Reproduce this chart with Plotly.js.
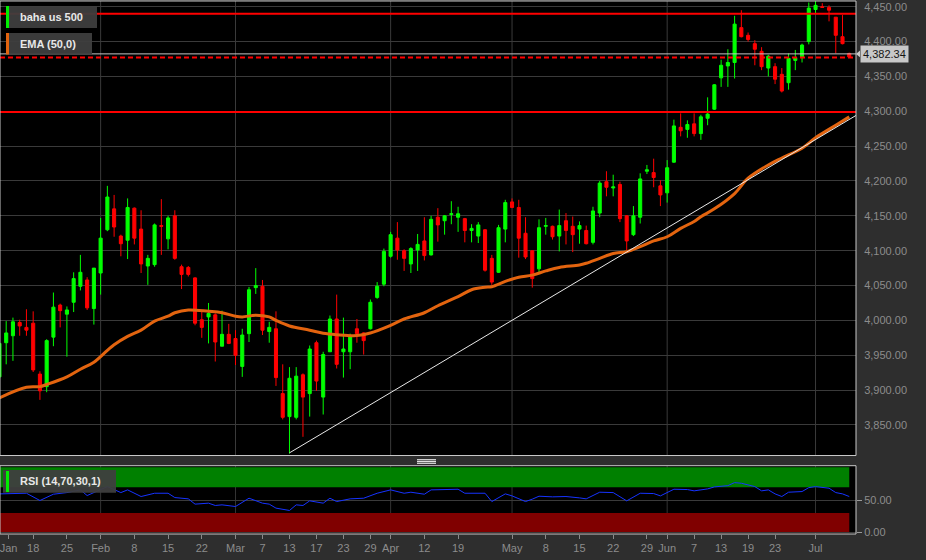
<!DOCTYPE html>
<html><head><meta charset="utf-8">
<script src="https://cdn.plot.ly/plotly-3.0.1.min.js"></script>
<style>html,body{margin:0;padding:0;background:#2e2e2e;overflow:hidden}#chart{width:926px;height:560px}</style>
</head><body><div id="chart"></div>
<script>
// ---- data ----
const opens = [3919,3968,3978,3997,3990,3996,3923,3905,3976,4022, 4009,4026,4049,4058,4017,4068,4130,4160,4121,4115, 4161,4131,4078,4080,4136,4117,4150,4077,4076,4061, 4001,4005,4008,3963,3980,3974,3934,3981,4047,4049, 3984,3988,3895,3862,3861,3922,3895,3968,3890,3955, 4002,3955,3955,3988,3982,3988,4033,4052,4092,4118, 4100,4081,4101,4114,4094,4148,4143,4152,4148,4146, 4129,4121,4130,4089,4069,4131,4170,4162,4125,4100, 4074,4135,4135,4121,4143,4135,4131,4129,4112,4154, 4199,4190,4195,4150,4123,4148,4214,4212,4193,4183, 4227,4277,4274,4282,4268,4290,4303,4348,4365,4370, 4420,4409,4397,4386,4362,4364,4353,4341,4373,4377, 4400,4446,4450,4449,4435,4407,4383];
const highs = [3972,3999,4004,4001,4016,4013,3927,3973,4040,4024, 4020,4069,4094,4062,4075,4147,4193,4180,4123,4175, 4162,4158,4094,4139,4174,4150,4158,4080,4078,4062, 4014,4025,4010,4014,3995,3986,3988,4048,4075,4058, 3998,4013,3937,3933,3933,3924,3964,3971,3955,4007, 4037,4004,3981,4002,3983,4030,4055,4103,4127,4141, 4102,4105,4124,4148,4150,4161,4151,4171,4163,4147, 4138,4141,4131,4094,4137,4173,4175,4173,4148,4100, 4145,4147,4136,4159,4154,4149,4142,4136,4163,4200, 4214,4209,4199,4151,4164,4211,4223,4232,4201,4230, 4288,4297,4287,4297,4295,4320,4339,4374,4389,4437, 4445,4413,4402,4392,4381,4369,4362,4383,4388,4397, 4456,4459,4455,4452,4435,4438,4384];
const lows = [3912,3937,3942,3978,3978,3926,3886,3897,3963,3990, 3948,4012,4043,4015,3994,4037,4128,4120,4092,4088, 4109,4068,4051,4077,4094,4102,4087,4045,4063,3993, 3975,3967,3941,3963,3966,3936,3919,3969,4038,3979, 3968,3906,3858,3809,3858,3833,3862,3899,3865,3955, 3931,3918,3930,3968,3951,3987,4031,4049,4090,4087, 4071,4068,4071,4086,4093,4113,4123,4138,4127,4112, 4112,4111,4070,4051,4068,4112,4161,4090,4088,4047, 4069,4123,4116,4099,4109,4098,4110,4109,4109,4148, 4178,4178,4141,4101,4121,4139,4210,4191,4164,4169, 4226,4264,4262,4264,4259,4280,4302,4335,4335,4347, 4406,4400,4366,4359,4350,4339,4327,4331,4359,4370, 4396,4441,4449,4429,4383,4396,4377];
const closes = [3967,3982,3998,3992,3986,3929,3899,3971,4019,4014, 4015,4060,4069,4018,4075,4118,4177,4134,4110,4162, 4118,4081,4089,4137,4135,4147,4089,4066,4066,3996, 3990,4010,3969,3980,3967,3950,3979,4044,4050,3986, 3990,3918,3861,3917,3920,3890,3959,3913,3951,4002, 3937,3959,3978,3981,3971,4026,4049,4099,4123,4101, 4089,4103,4109,4093,4145,4137,4150,4153,4153,4129, 4132,4137,4072,4055,4133,4169,4162,4118,4091,4060, 4133,4136,4120,4136,4129,4123,4136,4110,4157,4197, 4191,4191.5,4146,4114,4150,4203,4216,4205,4180,4219, 4279,4272,4281,4268,4292,4296,4338,4366,4370,4425, 4407,4403,4389,4364,4379,4346,4329,4376,4377,4395, 4448,4452,4449,4445,4409,4397,4378];

const emaX = [0,4,6,7,10,12,14,16,17,19,21,23,25,26,28,31,33,35,36,38,40,41,43,46,48,50,53,55,58,60,63,65,68,70,72,73,75,77,79,81,83,86,87,89,91,93,95,97,99,101,103,104,106,109,111,114,116,119,121,124,126];
const emaY = [3889,3904,3905,3908,3919,3930,3940,3957,3965,3977,3986,3999,4006,4011,4015,4013,4011,4006,4005,4007.5,4005,4000,3992,3986,3981.5,3979.5,3978.3,3982,3993,4002,4011,4021,4034,4044,4047.5,4048.4,4056,4062,4065,4071,4076,4079.5,4082,4089,4096,4098.6,4105.7,4114,4120,4132,4142,4148.8,4160,4182,4204,4223,4233,4247,4262,4280,4292];

const rsiX = [0,4,6,8,10,12,13,15,16,18,19,21,23,25,26,28,29,31,32,33,35,37,39,40,41,43,44,45,46,48,49,50,52,54,56,58,60,61,63,64,67,68,69,72,73,75,76,78,79,80,82,84,86,87,89,91,93,95,97,98,100,102,103,105,106,108,109,110,112,113,114,115,116,117,119,120,121,123,124,125,126];
const rsiY = [59.7,60.7,49.4,59.2,61.7,65.9,57.1,65.9,71.0,61.7,65.9,55.6,60.7,60.7,54.0,52.0,43.8,45.3,41.7,42.7,40.1,53.0,45.3,43.8,37.6,34.0,42.7,41.7,48.9,45.3,53.0,47.8,52.0,53.0,60.7,65.9,60.7,62.3,59.2,65.9,65.9,66.9,60.7,60.7,47.8,59.7,56.6,47.8,51.5,56.1,55.1,55.6,53.5,52.0,62.3,61.7,48.9,60.7,60.2,56.6,66.9,66.4,64.4,67.4,70.5,72.5,77.2,76.2,71.0,64.4,65.9,59.7,55.6,62.3,63.3,69.4,71.0,68.5,61.7,59.7,55.6];
const rsiUpper = 70, rsiLower = 30, rsiTop = 101, rsiBottom = -1.5;

const tickIdx = [1.35,5,10,15,20,25,30,35,39,43,47,51,55,58,63,68,76,81,86,91,96,99,103,107,111,115,121];
const tickText = ['Jan','18','25','Feb','8','15','22','Mar','7','13','17','23','29','Apr','12','19','May','8','15','22','29','Jun','7','13','19','23','Jul'];
const monthIdx = [15,35,58,76,99,121];
const priceTicks = [3850,3900,3950,4000,4050,4100,4150,4200,4250,4300,4350,4400,4450];

const solidLevels = [4440, 4299];
const dashedLevel = 4377;
const lastPrice = 4382.34;
const trendX = [43, 127];
const trendY = [3810, 4294];

// ---- layout helpers (pixel -> paper) ----
const PW = 856, PT = 1, PB = 534, PH = PB - PT;
const px = x => x / PW;
const py = y => (PB - y) / PH;
const FONT = 'Liberation Sans, Arial, sans-serif';

const idx = closes.map((_, i) => i);

const traces = [
  {type:'candlestick', x: idx, open: opens, high: highs, low: lows, close: closes,
   xaxis:'x', yaxis:'y', whiskerwidth:0,
   increasing:{line:{color:'#00ff00', width:1}, fillcolor:'#00ff00'},
   decreasing:{line:{color:'#ff0000', width:1}, fillcolor:'#ff0000'},
   hoverinfo:'skip', showlegend:false},
  {type:'scatter', mode:'lines', x: emaX, y: emaY, xaxis:'x', yaxis:'y',
   line:{color:'#e3640f', width:3, shape:'spline'}, hoverinfo:'skip', showlegend:false},
  {type:'scatter', mode:'lines', x: trendX, y: trendY, xaxis:'x', yaxis:'y',
   line:{color:'#e8e8e8', width:1}, hoverinfo:'skip', showlegend:false},
  {type:'scatter', mode:'lines', x: rsiX, y: rsiY, xaxis:'x', yaxis:'y2',
   line:{color:'#1633ff', width:1}, hoverinfo:'skip', showlegend:false}
];

const shapes = [];
const lastIdx = closes.length - 1;
// RSI zones
shapes.push({type:'rect', xref:'x', yref:'y2', x0:0, x1:lastIdx, y0:rsiUpper, y1:rsiTop, fillcolor:'#008000', line:{width:0}, layer:'below'});
shapes.push({type:'rect', xref:'x', yref:'y2', x0:0, x1:lastIdx, y0:rsiBottom, y1:rsiLower, fillcolor:'#800000', line:{width:0}, layer:'below'});
// month grid lines
monthIdx.forEach(m => {
  shapes.push({type:'line', xref:'x', yref:'y domain', x0:m, x1:m, y0:0, y1:1, line:{color:'#3a3a3a', width:1}, layer:'below'});
  shapes.push({type:'line', xref:'x', yref:'y2 domain', x0:m, x1:m, y0:0, y1:1, line:{color:'rgba(255,255,255,0.2)', width:1}, layer:'below'});
});
// horizontal levels
shapes.push({type:'line', xref:'x domain', yref:'y', x0:0, x1:1, y0:lastPrice, y1:lastPrice, line:{color:'#c4c4c4', width:1}});
solidLevels.forEach(l => shapes.push({type:'line', xref:'x domain', yref:'y', x0:0, x1:1, y0:l, y1:l, line:{color:'#ff0000', width:2}}));
shapes.push({type:'line', xref:'x domain', yref:'y', x0:0, x1:1, y0:dashedLevel, y1:dashedLevel, line:{color:'#ff0000', width:2, dash:'5px,3px'}});
// frames
shapes.push({type:'rect', xref:'x domain', yref:'y domain', x0:0, x1:1, y0:0, y1:1, line:{color:'#c8c8c8', width:1}, fillcolor:'rgba(0,0,0,0)'});
shapes.push({type:'rect', xref:'x domain', yref:'y2 domain', x0:0, x1:1, y0:0, y1:1, line:{color:'#c8c8c8', width:1}, fillcolor:'rgba(0,0,0,0)'});
// legend boxes
shapes.push({type:'rect', xref:'paper', yref:'paper', x0:px(6), x1:px(97), y0:py(28), y1:py(6), fillcolor:'rgba(62,62,62,0.95)', line:{width:0}});
shapes.push({type:'rect', xref:'paper', yref:'paper', x0:px(6), x1:px(9), y0:py(28), y1:py(6), fillcolor:'#00ee00', line:{width:0}});
shapes.push({type:'rect', xref:'paper', yref:'paper', x0:px(6), x1:px(92), y0:py(54.5), y1:py(33), fillcolor:'rgba(62,62,62,0.95)', line:{width:0}});
shapes.push({type:'rect', xref:'paper', yref:'paper', x0:px(6), x1:px(9), y0:py(54.5), y1:py(33), fillcolor:'#e3640f', line:{width:0}});
shapes.push({type:'rect', xref:'paper', yref:'paper', x0:px(3), x1:px(116), y0:py(492.7), y1:py(470), fillcolor:'rgba(62,62,62,0.95)', line:{width:0}});
shapes.push({type:'rect', xref:'paper', yref:'paper', x0:px(6), x1:px(9), y0:py(492), y1:py(471), fillcolor:'#00ee00', line:{width:0}});
// separator handle
[459.7, 461.5, 463.3].forEach(y => shapes.push({type:'line', xref:'paper', yref:'paper', x0:px(417), x1:px(436), y0:py(y), y1:py(y), line:{color:'#e0e0e0', width:1.2}}));
// price label notch
shapes.push({type:'path', xref:'paper', yref:'y', path:`M ${px(856)},${lastPrice} L ${px(860)},${lastPrice+5} L ${px(860)},${lastPrice-5} Z`, fillcolor:'#c8c8c8', line:{width:0}});

const annotations = [
  {xref:'paper', yref:'paper', x:px(17.5), y:py(17), xanchor:'left', yanchor:'middle', showarrow:false,
   text:'<b>baha us 500</b>', font:{family:FONT, size:11, color:'#e8e8e8'}},
  {xref:'paper', yref:'paper', x:px(17.5), y:py(43.7), xanchor:'left', yanchor:'middle', showarrow:false,
   text:'<b>EMA (50,0)</b>', font:{family:FONT, size:11, color:'#e8e8e8'}},
  {xref:'paper', yref:'paper', x:px(17.5), y:py(481.3), xanchor:'left', yanchor:'middle', showarrow:false,
   text:'<b>RSI (14,70,30,1)</b>', font:{family:FONT, size:11, color:'#e8e8e8'}},
  {xref:'paper', yref:'y', x:px(859.5), y:lastPrice, xanchor:'left', yanchor:'middle', showarrow:false,
   text: lastPrice.toLocaleString('en-US',{minimumFractionDigits:2, maximumFractionDigits:2}),
   bgcolor:'#c8c8c8', borderpad:2, font:{family:FONT, size:11, color:'#151515'}}
];

const layout = {
  width:926, height:560,
  margin:{l:0, r:70, t:1, b:26, pad:0},
  paper_bgcolor:'#2e2e2e', plot_bgcolor:'#000000',
  showlegend:false, boxgap:0.35,
  font:{family:FONT, size:11, color:'#8c8c8c'},
  xaxis:{domain:[0,1], anchor:'y2', range:[0.08,127.0], type:'linear',
    showgrid:false, zeroline:false, showline:false,
    tickmode:'array', tickvals:tickIdx, ticktext:tickText,
    ticks:'outside', ticklen:4, tickcolor:'#8a8a8a', ticklabeloverflow:'allow',
    tickfont:{family:FONT, size:11, color:'#8c8c8c'},
    rangeslider:{visible:false}, fixedrange:true},
  yaxis:{domain:[py(455.5),1], anchor:'x', side:'right', range:[3806.2,4458.2],
    tickmode:'array', tickvals:priceTicks, tickformat:',.2f',
    showgrid:true, gridcolor:'#3a3a3a', gridwidth:1, zeroline:false, showline:false,
    ticks:'outside', ticklen:5, tickcolor:'rgba(0,0,0,0)', ticklabeloverflow:'allow',
    tickfont:{family:FONT, size:11, color:'#8c8c8c'}, fixedrange:true},
  yaxis2:{domain:[0,py(465.7)], anchor:'x', side:'right', range:[-2.5,103.4],
    tickmode:'array', tickvals:[0,50], tickformat:'.2f',
    showgrid:true, gridcolor:'#3a3a3a', zeroline:false, showline:false,
    ticks:'outside', ticklen:5, tickcolor:'#9a9a9a', ticklabeloverflow:'allow',
    tickfont:{family:FONT, size:11, color:'#8c8c8c'}, fixedrange:true},
  shapes, annotations
};

Plotly.newPlot('chart', traces, layout, {staticPlot:true, displayModeBar:false});
</script></body></html>
